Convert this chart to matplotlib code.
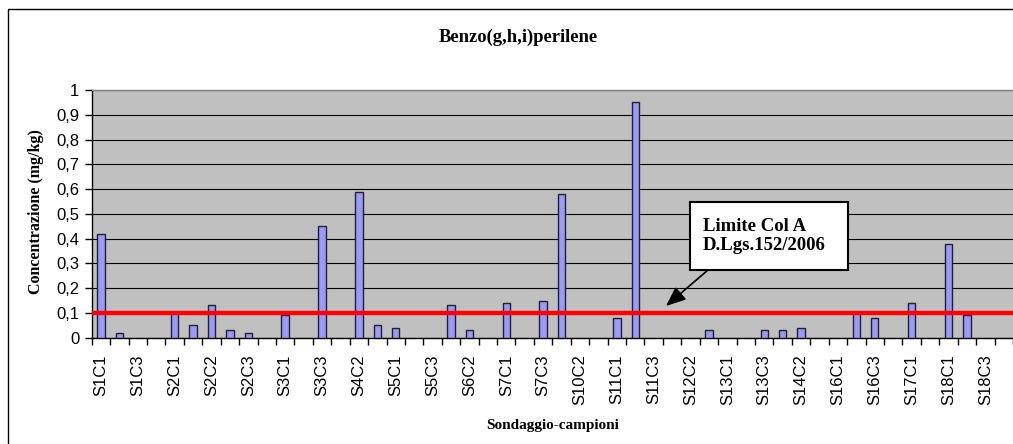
import numpy as np
import matplotlib
matplotlib.use("Agg")
import matplotlib.pyplot as plt
from matplotlib.patches import Rectangle
from matplotlib.ticker import FuncFormatter

categories = ["S1C1", "S1C2", "S1C3", "S1C4", "S2C1", "S2C1b", "S2C2", "S2C2b", "S2C3", "S2C4",
              "S3C1", "S3C2", "S3C3", "S4C1", "S4C2", "S4C3", "S5C1", "S5C2", "S5C3", "S6C1",
              "S6C2", "S6C3", "S7C1", "S7C2", "S7C3", "S10C1", "S10C2", "S10C3", "S11C1", "S11C2",
              "S11C3", "S12C1", "S12C2", "S12C3", "S13C1", "S13C2", "S13C3", "S14C1", "S14C2", "S14C3",
              "S16C1", "S16C2", "S16C3", "S16C4", "S17C1", "S17C2", "S18C1", "S18C2", "S18C3", "S18C4"]
nan = np.nan
values = [0.42, 0.02, nan, nan, 0.10, 0.05, 0.13, 0.03, 0.02, nan,
          0.09, nan, 0.45, nan, 0.59, 0.05, 0.04, nan, nan, 0.13,
          0.03, nan, 0.14, nan, 0.15, 0.58, nan, nan, 0.08, 0.95,
          nan, nan, nan, 0.03, nan, nan, 0.03, 0.03, 0.04, nan,
          nan, 0.10, 0.08, nan, 0.14, nan, 0.38, 0.09, nan, nan]
limit_value = 0.1
title = "Benzo(g,h,i)perilene"
ylabel = "Concentrazione (mg/kg)"
xlabel = "Sondaggio-campioni"
limit_label = "Limite Col A\nD.Lgs.152/2006"
yticks = [0, 0.1, 0.2, 0.3, 0.4, 0.5, 0.6, 0.7, 0.8, 0.9, 1.0]

W, H = 1013, 444
fig = plt.figure(figsize=(W / 100, H / 100), dpi=100)
serif = ["Liberation Serif", "DejaVu Serif"]
sans = ["Liberation Sans", "DejaVu Sans"]

# outer chart frame
fig.patches.append(Rectangle((8 / W, -0.1), 1.2, 1 - 9 / H + 0.1, transform=fig.transFigure,
                             fill=False, edgecolor="black", linewidth=1.0))

left, right = 91.7 / W, 1.0
bottom, top = 1 - 337.7 / H, 1 - 90 / H
ax = fig.add_axes([left, bottom, right - left, top - bottom])
ax.set_facecolor("#C0C0C0")

x = np.arange(len(categories))
ax.bar(x, values, width=0.4, color="#9999FF", edgecolor="#222222", linewidth=1.0, zorder=3)
ax.axhline(limit_value, color="#FF0000", linewidth=3.2, zorder=4)

ax.set_ylim(0, 1)
ax.set_xlim(-0.5, -0.5 + (W - 91.7) / 18.49)
ax.set_yticks(yticks)
ax.yaxis.set_major_formatter(FuncFormatter(lambda v, p: ("%g" % round(v, 1)).replace(".", ",")))
ax.grid(axis="y", color="black", linewidth=0.8, zorder=1)
ax.set_axisbelow(True)

ax.set_xticks(x[::2])
ax.set_xticklabels(categories[::2], rotation=90, fontsize=12, family=sans)
ax.set_xticks(np.arange(len(categories) + 1) - 0.5, minor=True)
ax.tick_params(axis="x", which="major", length=0, pad=12)
ax.tick_params(axis="x", which="minor", length=5, width=1, color="black", direction="out")
ax.tick_params(axis="y", length=5, width=1, direction="out", pad=4, labelsize=12)
for lab in ax.get_yticklabels():
    lab.set_family(sans)

for s in ["left", "bottom"]:
    ax.spines[s].set_color("black")
    ax.spines[s].set_linewidth(1.0)
ax.spines["top"].set_color("#808080")
ax.spines["top"].set_linewidth(1.0)
ax.spines["right"].set_visible(False)

fig.text(518 / W, 1 - 37 / H, title, ha="center", va="center", fontsize=13.3, fontweight="bold", family=serif)
fig.text(36 / W, 1 - 212 / H, ylabel, ha="center", va="center", rotation=90, fontsize=11.5,
         fontweight="bold", family=serif)
fig.text(553 / W, 1 - 425 / H, xlabel, ha="center", va="center", fontsize=11, fontweight="bold", family=serif)

# annotation box
aw, ah = W - 91.7, 247.7
bx0, bx1 = (690 - 91.7) / aw, (848 - 91.7) / aw
by0, by1 = (337.7 - 270) / ah, (337.7 - 202) / ah
ax.add_patch(Rectangle((bx0, by0), bx1 - bx0, by1 - by0, transform=ax.transAxes,
                       facecolor="white", edgecolor="black", linewidth=1.5, zorder=6))
ax.text((702.7 - 91.7) / aw, (by0 + by1) / 2, limit_label, transform=ax.transAxes,
        ha="left", va="center", fontsize=13.5, fontweight="bold", family=serif,
        linespacing=1.1, zorder=7)
ax.annotate("", xy=((666 - 91.7) / aw, (337.7 - 306) / ah), xycoords="axes fraction",
            xytext=((708 - 91.7) / aw, by0), textcoords="axes fraction",
            arrowprops=dict(arrowstyle="-|>,head_length=1.2,head_width=0.5", color="black",
                            lw=1.2, shrinkA=0, shrinkB=0), zorder=7)

fig.savefig("out.png", dpi=100)
